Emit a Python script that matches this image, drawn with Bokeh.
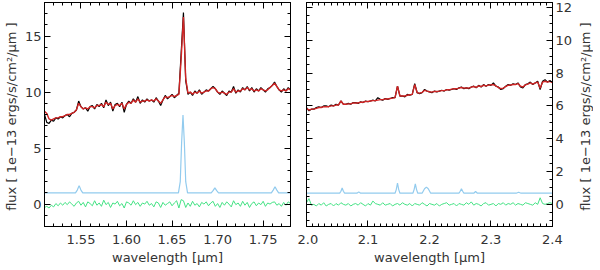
import numpy as np
from bokeh.plotting import figure
from bokeh.layouts import row
from bokeh.models import (Range1d, LinearAxis, SingleIntervalTicker, PrintfTickFormatter,
                          CustomLabelingPolicy, Title)
from bokeh.embed import file_html
from bokeh.resources import INLINE

# ---------------- data ----------------
# H band (left panel), sampled every 0.0025 um from 1.51 um
h_start, h_step = 1.51, 0.0025
h_obs = [8.0, 7.3, 7.2, 7.5, 7.4, 7.7, 7.6, 7.8, 7.7, 7.9,
         8.0, 7.8, 8.1, 8.2, 8.4, 9.2, 8.7, 8.5, 8.6, 8.3,
         8.7, 8.8, 8.5, 8.9, 8.7, 9.0, 8.6, 9.3, 8.8, 9.1,
         8.3, 8.9, 9.0, 8.7, 9.1, 8.2, 8.9, 9.2, 9.0, 9.4,
         9.1, 9.6, 9.0, 9.3, 9.1, 9.4, 9.2, 9.3, 9.1, 9.5,
         9.2, 8.8, 9.3, 9.7, 9.4, 9.6, 9.8, 9.5, 9.7, 9.9,
         13.5, 17.1, 11.0, 9.8, 10.0, 9.7, 10.1, 9.9, 10.2, 9.8,
         10.0, 10.2, 10.1, 10.3, 10.5, 10.3, 10.0, 9.8, 10.1, 9.9,
         9.7, 10.1, 10.0, 10.5, 9.9, 10.2, 10.0, 10.4, 10.2, 10.5,
         10.1, 10.4, 10.0, 10.3, 10.1, 10.4, 10.2, 10.0, 10.3, 10.4,
         10.6, 10.9, 10.5, 10.2, 10.0, 10.3, 10.1, 10.4, 10.2]
h_model = [8.3, 8.1, 7.6, 7.5, 7.6, 7.7, 7.7, 7.8, 7.8, 7.9,
           8.0, 8.0, 8.1, 8.2, 8.4, 9.0, 8.7, 8.5, 8.6, 8.5,
           8.7, 8.7, 8.6, 8.8, 8.8, 8.9, 8.7, 9.1, 8.9, 9.0,
           8.5, 8.8, 8.9, 8.8, 9.0, 8.5, 8.9, 9.1, 9.0, 9.3,
           9.1, 9.4, 9.1, 9.2, 9.2, 9.3, 9.2, 9.3, 9.2, 9.4,
           9.2, 9.0, 9.3, 9.6, 9.5, 9.6, 9.7, 9.6, 9.7, 9.8,
           13.0, 16.7, 11.2, 9.9, 10.0, 9.8, 10.0, 9.9, 10.1, 9.9,
           10.0, 10.1, 10.1, 10.3, 10.4, 10.3, 10.0, 9.9, 10.0, 9.9,
           9.8, 10.0, 10.0, 10.3, 10.0, 10.1, 10.1, 10.3, 10.2, 10.4,
           10.2, 10.3, 10.1, 10.2, 10.1, 10.3, 10.2, 10.1, 10.2, 10.4,
           10.6, 10.8, 10.5, 10.2, 10.1, 10.2, 10.1, 10.3, 10.2]
h_resid = [-0.3, -0.2, -0.35, -0.1, -0.25, 0.05, -0.15, 0.1, -0.1, 0.15,
           -0.05, 0.2, 0.0, -0.2, 0.1, 0.25, -0.1, 0.15, -0.25, 0.2,
           0.05, -0.15, 0.3, -0.1, 0.1, -0.2, 0.35, -0.05, 0.15, -0.3,
           0.1, 0.0, 0.25, -0.15, 0.05, -0.35, 0.2, 0.1, -0.1, 0.3,
           -0.05, 0.15, -0.2, 0.1, 0.0, 0.25, -0.1, 0.05, -0.25, 0.2,
           0.1, -0.3, 0.15, -0.1, 0.05, 0.2, -0.15, 0.1, 0.3, -0.35,
           0.4, 0.3, -0.3, 0.1, -0.2, 0.25, -0.1, 0.05, -0.25, 0.15,
           0.0, 0.2, -0.15, 0.1, 0.25, -0.2, 0.05, -0.3, 0.15, -0.1,
           0.2, 0.0, -0.25, 0.3, -0.05, 0.1, -0.2, 0.25, -0.1, 0.15,
           -0.3, 0.05, 0.2, -0.15, 0.1, -0.05, 0.25, -0.2, 0.1, 0.0,
           0.15, 0.2, -0.1, 0.05, -0.2, 0.15, -0.1, 0.2, 0.05]
h_lines_x = [1.51, 1.544, 1.546, 1.548, 1.550, 1.552,
             1.657, 1.659, 1.6605, 1.662, 1.6635, 1.665, 1.667,
             1.693, 1.695, 1.697, 1.699, 1.701,
             1.759, 1.761, 1.763, 1.765, 1.767, 1.78]
h_lines_y = [1.0, 1.0, 1.25, 1.65, 1.25, 1.0,
             1.0, 2.0, 5.5, 7.95, 5.5, 2.0, 1.0,
             1.0, 1.2, 1.45, 1.2, 1.0,
             1.0, 1.25, 1.55, 1.25, 1.0, 1.0]

# K band (right panel), sampled every 0.004 um from 2.0 um
k_start, k_step = 2.0, 0.004
k_obs = [5.9, 5.7, 5.8, 5.8, 5.9, 5.95, 5.9, 6.0, 6.0, 5.95,
         6.05, 6.0, 6.1, 6.05, 6.3, 6.1, 6.1, 6.15, 6.1, 6.2,
         6.2, 6.15, 6.25, 6.2, 6.3, 6.25, 6.3, 6.35, 6.3, 6.5,
         6.4, 6.35, 6.45, 6.4, 6.45, 6.5, 6.5, 7.2, 6.6, 6.6,
         6.55, 6.7, 6.65, 6.7, 7.35, 6.8, 6.75, 6.8, 7.0, 6.9,
         6.85, 6.8, 6.9, 6.85, 6.9, 6.95, 6.9, 7.0, 6.95, 7.0,
         7.05, 7.0, 7.1, 7.15, 7.05, 7.1, 7.05, 7.15, 7.2, 7.1,
         7.25, 7.15, 7.3, 7.2, 7.3, 7.25, 7.4, 7.2, 7.15, 7.0,
         7.05, 7.2, 7.3, 7.25, 7.35, 7.3, 7.4, 7.15, 7.1, 7.3,
         7.35, 7.45, 7.3, 7.4, 7.5, 7.0, 7.5, 7.6, 7.45, 7.55,
         7.4]
k_model = [5.85, 5.75, 5.8, 5.8, 5.85, 5.9, 5.9, 5.95, 5.95, 5.95,
           6.0, 6.0, 6.05, 6.05, 6.3, 6.1, 6.1, 6.12, 6.12, 6.18,
           6.18, 6.18, 6.22, 6.22, 6.27, 6.27, 6.3, 6.32, 6.32, 6.35,
           6.38, 6.38, 6.42, 6.42, 6.45, 6.47, 6.5, 7.2, 6.6, 6.6,
           6.6, 6.65, 6.68, 6.7, 7.3, 6.8, 6.78, 6.82, 6.95, 6.9,
           6.86, 6.84, 6.88, 6.88, 6.9, 6.93, 6.93, 6.98, 6.98, 7.02,
           7.04, 7.04, 7.08, 7.12, 7.08, 7.1, 7.08, 7.14, 7.18, 7.13,
           7.22, 7.18, 7.26, 7.22, 7.27, 7.28, 7.3, 7.22, 7.12, 7.05,
           7.08, 7.18, 7.26, 7.27, 7.3, 7.3, 7.36, 7.2, 7.15, 7.28,
           7.33, 7.4, 7.33, 7.4, 7.45, 7.08, 7.45, 7.5, 7.45, 7.5,
           7.42]
k_resid = [0.1, 0.35, -0.05, 0.0, -0.1, 0.05, -0.05, 0.1, -0.1, 0.0,
           0.05, -0.1, 0.05, -0.05, 0.1, 0.0, -0.05, 0.05, -0.1, 0.0,
           0.05, -0.05, 0.1, 0.0, -0.1, 0.05, -0.05, 0.2, 0.05, 0.0,
           -0.05, 0.1, -0.05, 0.0, 0.05, -0.1, 0.0, 0.05, -0.05, 0.1,
           0.0, -0.05, 0.05, -0.1, 0.05, 0.0, -0.05, 0.1, 0.0, -0.1,
           0.05, 0.0, -0.05, 0.05, -0.1, 0.0, 0.05, 0.1, -0.05, 0.0,
           0.05, -0.1, 0.05, 0.0, -0.05, 0.1, 0.0, 0.15, -0.05, 0.05,
           0.0, -0.1, 0.05, 0.1, -0.05, 0.0, 0.05, -0.1, 0.05, 0.0,
           0.1, -0.05, 0.05, 0.0, 0.1, -0.05, 0.05, 0.0, -0.05, 0.1,
           0.05, 0.0, -0.05, 0.1, 0.0, 0.4, 0.05, 0.0, 0.05, 0.1,
           0.05]
k_lines_x = [2.0, 2.054, 2.056, 2.058, 2.060, 2.062, 2.082, 2.085, 2.088,
             2.144, 2.146, 2.148, 2.150, 2.152, 2.173, 2.175, 2.177, 2.179, 2.181,
             2.188, 2.192, 2.195, 2.198, 2.202, 2.248, 2.250, 2.252, 2.254, 2.256,
             2.272, 2.275, 2.278, 2.341, 2.345, 2.349, 2.4]
k_lines_y = [0.68, 0.68, 0.8, 1.0, 0.8, 0.68, 0.68, 0.76, 0.68,
             0.68, 0.9, 1.3, 0.9, 0.68, 0.68, 0.9, 1.25, 0.9, 0.68,
             0.68, 0.95, 1.05, 0.95, 0.68, 0.68, 0.8, 0.95, 0.8, 0.68,
             0.68, 0.78, 0.68, 0.68, 0.74, 0.68, 0.68]

y_title = "flux  [ 1e\u221213 ergs/s/cm\u00b2/\u03bcm ]"
x_title = "wavelength [\u03bcm]"

# ---------------- styling ----------------
FONT = "DejaVu Sans"
TXT = "#333333"
C_OBS, C_MOD, C_LIN, C_RES = "#000000", "#d02424", "#92cbee", "#44e284"
FRAME_W, FRAME_H = 246, 224
BORDER_TOP, BORDER_BOTTOM = 2, 36

HIDE = CustomLabelingPolicy(code="for (const i of indices) indices.unset(i); return indices")


def style(ax, interval, minor, fmt, labels):
    ax.ticker = SingleIntervalTicker(interval=interval, num_minor_ticks=minor)
    ax.formatter = PrintfTickFormatter(format=fmt)
    ax.major_tick_in = 6
    ax.major_tick_out = 0
    ax.minor_tick_in = 3
    ax.minor_tick_out = 0
    ax.axis_line_color = "black"
    ax.major_tick_line_color = "black"
    ax.minor_tick_line_color = "black"
    ax.major_label_text_font = FONT
    ax.major_label_text_color = TXT
    ax.axis_label_text_font = FONT
    ax.axis_label_text_color = TXT
    ax.axis_label_text_font_style = "normal"
    ax.axis_label_text_font_size = "13px"
    if labels:
        ax.major_label_text_font_size = "13px"
        ax.major_label_standoff = 3
        ax.axis_label_standoff = 3
    else:
        ax.major_label_text_font_size = "0px"
        ax.major_label_policy = HIDE
        ax.major_label_standoff = 0
        ax.axis_label = None


def make(xr, yr, xint, xminor, xfmt, yint, yminor, yside, **kw):
    p = figure(x_range=Range1d(*xr), y_range=Range1d(*yr),
               output_backend="svg", toolbar_location=None,
               y_axis_location=yside, frame_width=FRAME_W, frame_height=FRAME_H,
               min_border_top=BORDER_TOP, min_border_bottom=BORDER_BOTTOM, **kw)
    p.xgrid.visible = False
    p.ygrid.visible = False
    p.outline_line_color = "black"
    p.background_fill_color = "white"
    p.border_fill_color = "white"
    style(p.xaxis[0], xint, xminor, xfmt, True)
    p.xaxis[0].axis_label = x_title
    p.xaxis[0].major_label_standoff = 8
    p.xaxis[0].axis_label_standoff = 3
    style(p.yaxis[0], yint, yminor, "%d", True)
    if yside == "left":
        p.yaxis[0].axis_label = y_title
    top = LinearAxis()
    style(top, xint, xminor, xfmt, False)
    p.add_layout(top, "above")
    other = LinearAxis()
    style(other, yint, yminor, "%d", False)
    p.add_layout(other, "right" if yside == "left" else "left")
    return p


pl = make((1.51, 1.78), (-2, 18), 0.05, 5, "%.2f", 5, 5, "left",
          min_border_left=37, min_border_right=7)
pl.line(h_lines_x, h_lines_y, color=C_LIN, line_width=1.2)
pl.line(h_start + h_step * np.arange(len(h_resid)), h_resid, color=C_RES, line_width=1)
pl.line(h_start + h_step * np.arange(len(h_obs)), h_obs, color=C_OBS, line_width=1.2)
pl.line(h_start + h_step * np.arange(len(h_model)), h_model, color=C_MOD, line_width=1.4)

k_xr = (2.0, 2.4001)
k_yr = (-1.35, 12.3)
pr = make(k_xr, k_yr, 0.1, 10, "%.1f", 2, 4, "right",
          min_border_left=9, min_border_right=20)
pr.line(k_lines_x, k_lines_y, color=C_LIN, line_width=1.2)
pr.line(k_start + k_step * np.arange(len(k_resid)), k_resid, color=C_RES, line_width=1)
pr.line(k_start + k_step * np.arange(len(k_obs)), k_obs, color=C_OBS, line_width=1.2)
pr.line(k_start + k_step * np.arange(len(k_model)), k_model, color=C_MOD, line_width=1.4)

# right-hand flux title (reads bottom-to-top, as in the reference)
pt = figure(x_range=Range1d(0, 1), y_range=Range1d(*k_yr),
            output_backend="svg", toolbar_location=None,
            x_axis_type=None, y_axis_type=None,
            frame_width=1, frame_height=FRAME_H,
            min_border_left=0, min_border_right=0,
            min_border_top=BORDER_TOP, min_border_bottom=BORDER_BOTTOM)
pt.outline_line_color = None
pt.background_fill_color = "white"
pt.border_fill_color = "white"
pt.grid.visible = False
pt.add_layout(Title(text=y_title, align="center", text_font=FONT, text_font_size="13px",
                    text_font_style="normal", text_color=TXT, standoff=0), "left")

p = row(pl, pr, pt)
open("out.html", "w").write(file_html(p, INLINE))
